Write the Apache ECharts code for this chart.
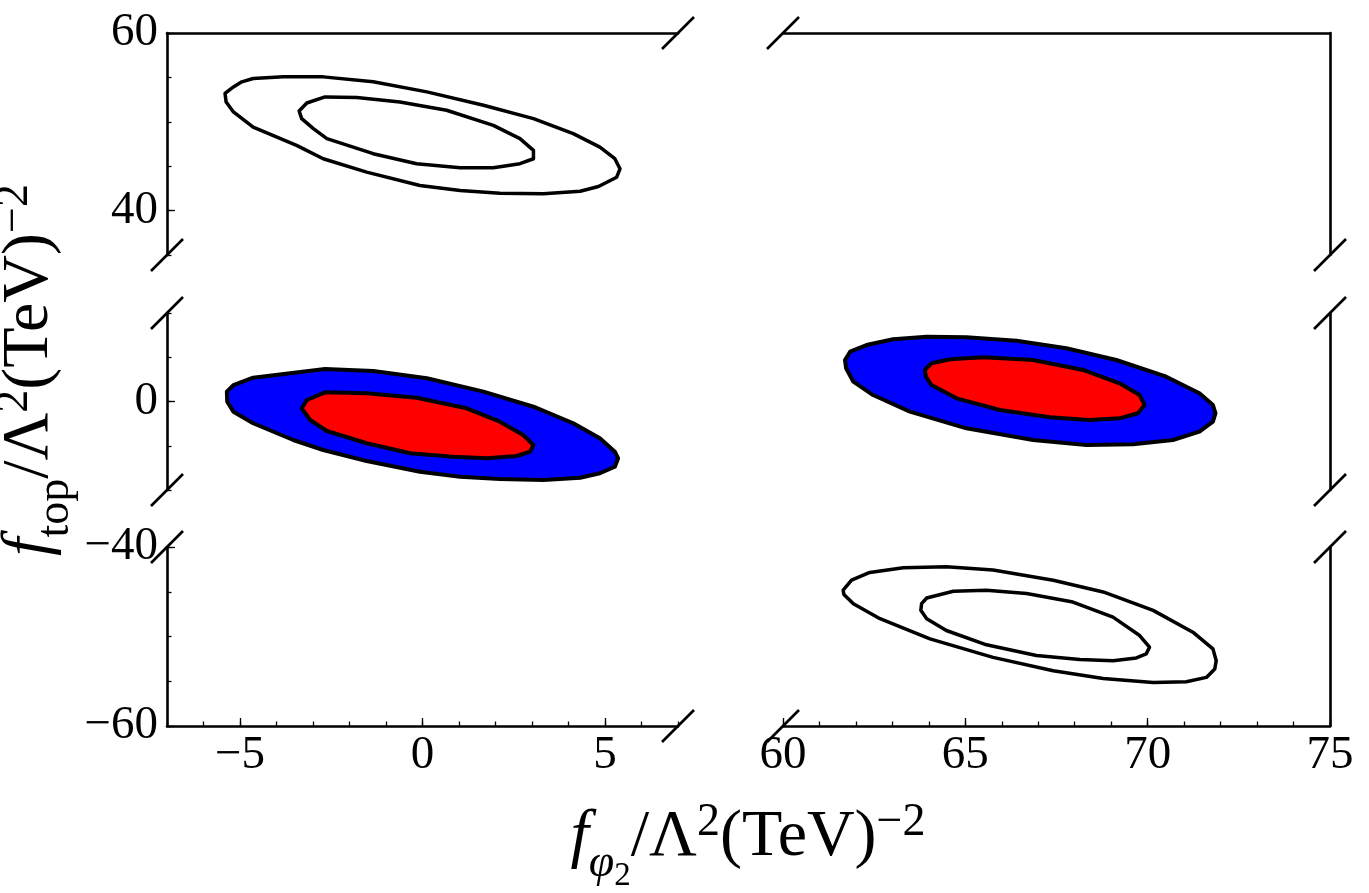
<!DOCTYPE html>
<html>
<head>
<meta charset="utf-8">
<script src="https://cdn.jsdelivr.net/npm/echarts@6/dist/echarts.min.js"></script>
<style>
html, body {margin: 0; padding: 0; background: #fff;}
#chart {width: 1369px; height: 893px;}
</style>
</head>
<body>
<div id="chart"></div>
<script>
// ranges of the broken axes
var xRangeLeft = [-7, 7];
var xRangeRight = [60, 75];
var yRangeTop = [35, 60];
var yRangeMid = [-10, 10];
var yRangeBot = [-60, -40];

// labelled (major) ticks
var xMajorLeft = [-5, 0, 5];
var xMajorRight = [60, 65, 70, 75];
var yMajor = [-60, -40, 0, 40, 60];

// contours, points are [f_phi2, f_top]
var topLeftOuter = [[-5.41,53.19],[-5.18,53.93],[-4.95,54.50],[-4.64,54.88],[-3.81,55.06],[-2.72,55.06],[-1.35,54.50],[0.12,53.37],[1.67,51.86],[3.04,50.36],[4.13,48.67],[4.86,47.15],[5.27,45.84],[5.41,44.71],[5.32,43.76],[4.82,42.71],[4.32,42.18],[3.31,41.89],[2.12,41.95],[1.03,42.26],[-0.07,42.82],[-1.53,44.33],[-2.72,45.84],[-3.45,47.34],[-4.64,49.41],[-5.18,51.11],[-5.38,52.24]];
var topLeftInner = [[-3.38,51.22],[-3.17,52.12],[-2.67,52.80],[-1.80,52.73],[-0.62,52.24],[0.66,51.30],[1.94,49.60],[2.67,48.10],[3.04,46.78],[3.04,45.84],[2.67,45.28],[1.94,44.82],[1.03,44.82],[-0.16,45.28],[-1.35,46.41],[-2.62,48.10],[-2.99,49.23],[-3.31,50.36]];
var midLeftOuter = [[-5.36,1.11],[-5.18,1.86],[-4.64,2.69],[-2.67,3.67],[-1.35,3.45],[0.12,2.62],[1.67,1.11],[3.04,-0.59],[4.13,-2.46],[4.86,-4.16],[5.27,-5.67],[5.36,-6.42],[5.27,-7.37],[4.86,-8.11],[4.32,-8.61],[3.31,-8.87],[2.12,-8.76],[1.03,-8.50],[-0.07,-7.93],[-1.53,-6.72],[-2.72,-5.48],[-3.54,-4.35],[-4.64,-2.46],[-5.18,-1.15],[-5.35,-0.02]];
var midLeftInner = [[-3.31,-0.77],[-3.17,0.17],[-2.67,1.04],[-1.53,0.93],[-0.16,0.43],[1.21,-0.77],[2.12,-2.28],[2.76,-3.79],[3.04,-4.92],[2.95,-5.67],[2.58,-6.16],[1.76,-6.42],[0.84,-6.24],[-0.34,-5.85],[-1.53,-4.72],[-2.62,-3.33],[-3.08,-2.09]];
var midRightOuter = [[61.70,4.69],[61.84,5.63],[62.29,6.38],[63.02,7.03],[63.94,7.32],[65.03,7.25],[66.40,6.87],[67.77,6.01],[69.14,4.69],[70.51,2.80],[71.42,0.93],[71.79,-0.40],[71.86,-1.33],[71.79,-2.28],[71.42,-3.41],[70.69,-4.35],[69.60,-4.84],[68.32,-4.92],[66.86,-4.35],[65.03,-3.03],[63.48,-1.15],[62.47,0.73],[61.93,2.24],[61.73,3.75]];
var midRightInner = [[63.89,3.56],[64.07,4.32],[64.58,4.77],[65.49,4.99],[66.86,4.69],[68.23,3.56],[69.23,2.06],[69.78,0.73],[69.92,-0.40],[69.73,-1.33],[69.23,-1.90],[68.41,-2.09],[67.32,-1.79],[65.95,-0.96],[64.76,0.36],[64.07,1.86],[63.92,2.80]];
var botRightOuter = [[61.65,-44.83],[61.88,-43.71],[62.38,-42.84],[63.30,-42.33],[64.48,-42.21],[65.76,-42.58],[67.41,-43.71],[68.78,-45.02],[70.15,-47.08],[71.24,-49.52],[71.79,-51.38],[71.88,-52.70],[71.84,-53.63],[71.61,-54.57],[71.06,-55.06],[70.15,-55.13],[68.78,-54.69],[67.41,-53.82],[65.76,-52.33],[64.03,-50.26],[62.66,-48.01],[61.93,-46.33],[61.67,-45.31]];
var botRightInner = [[63.80,-46.33],[63.94,-45.70],[64.67,-44.94],[65.58,-44.83],[66.68,-45.20],[67.95,-46.15],[69.05,-47.83],[69.78,-49.89],[70.05,-51.20],[69.96,-51.94],[69.69,-52.39],[69.05,-52.70],[68.14,-52.58],[66.95,-52.13],[65.58,-50.93],[64.48,-49.33],[63.94,-48.01],[63.78,-47.08]];

var FONT = 'Liberation Serif';
var cols = [{left: 167, width: 511, range: xRangeLeft, major: xMajorLeft},
            {left: 783, width: 547, range: xRangeRight, major: xMajorRight}];
var rows = [{top: 33, height: 222, range: yRangeTop},
            {top: 313, height: 177, range: yRangeMid},
            {top: 547, height: 179, range: yRangeBot}];

function fmt(v) {
    return v < 0 ? '\u2212' + Math.abs(v) : String(v);
}
function inRange(list, r) {
    return list.filter(function (v) { return v >= r[0] && v <= r[1]; });
}
var spine = {show: true, onZero: false, lineStyle: {color: '#000', width: 2.6}};
var tickLabel = {fontFamily: FONT, fontSize: 47, color: '#000'};

var grids = [], xAxes = [], yAxes = [];
rows.forEach(function (row, r) {
    cols.forEach(function (col, c) {
        var g = grids.length;
        grids.push({left: col.left, width: col.width, top: row.top, height: row.height});
        var x = {gridIndex: g, type: 'value', min: col.range[0], max: col.range[1],
                 interval: 1, splitLine: {show: false}};
        if (r === 0) {
            x.position = 'top';
            x.axisLine = spine; x.axisTick = {show: false}; x.axisLabel = {show: false};
        } else if (r === 1) {
            x.show = false;
        } else {
            x.position = 'bottom';
            x.axisLine = spine;
            x.axisTick = {inside: true, length: 4.5, lineStyle: {color: '#000', width: 1.3}};
            x.axisLabel = Object.assign({margin: 6, formatter: function (v) {
                return col.major.indexOf(v) >= 0 ? fmt(v) : '';
            }}, tickLabel);
        }
        xAxes.push(x);
        var y = {gridIndex: g, type: 'value', min: row.range[0], max: row.range[1],
                 interval: 5, splitLine: {show: false}, axisLine: spine};
        if (c === 0) {
            y.position = 'left';
            y.axisTick = {inside: true, length: 4.5, lineStyle: {color: '#000', width: 1.3}};
            y.axisLabel = Object.assign({margin: 9, formatter: function (v) {
                return yMajor.indexOf(v) >= 0 ? fmt(v) : '';
            }}, tickLabel);
        } else {
            y.position = 'right';
            y.axisTick = {show: false}; y.axisLabel = {show: false};
        }
        yAxes.push(y);
    });
});

// overlay grids carrying the longer major ticks
function majorAxis(g, range, values, pos) {
    if (!values) return {gridIndex: g, type: 'value', min: range[0], max: range[1], show: false};
    return {gridIndex: g, type: 'value', min: range[0], max: range[1], position: pos,
            axisLine: {show: false, onZero: false}, axisLabel: {show: false}, splitLine: {show: false},
            axisTick: {inside: true, length: 8, customValues: inRange(values, range),
                       lineStyle: {color: '#000', width: 1.3}}};
}
[[0, 0, false, true], [1, 0, false, true], [2, 0, true, true], [2, 1, true, false]].forEach(function (d) {
    var row = rows[d[0]], col = cols[d[1]], g = grids.length;
    grids.push({left: col.left, width: col.width, top: row.top, height: row.height});
    xAxes.push(majorAxis(g, col.range, d[2] ? col.major : null, 'bottom'));
    yAxes.push(majorAxis(g, row.range, d[3] ? yMajor : null, 'left'));
});

function contour(g, points, fill, lw) {
    return {
        type: 'custom', xAxisIndex: g, yAxisIndex: g, data: points, silent: true,
        renderItem: function (params, api) {
            if (params.dataIndex !== 0) return null;
            var pts = points.map(function (p) { return api.coord(p); });
            return {type: 'polygon', shape: {points: pts},
                    style: {fill: fill || 'none', stroke: '#000', lineWidth: lw, lineJoin: 'round'}};
        }
    };
}

var chart = echarts.init(document.getElementById('chart'));
chart.setOption({
    animation: false,
    backgroundColor: '#fff',
    grid: grids,
    xAxis: xAxes,
    yAxis: yAxes,
    series: [
        contour(0, topLeftOuter, null, 3.5),
        contour(0, topLeftInner, null, 3.5),
        contour(2, midLeftOuter, '#0000ff', 4),
        contour(2, midLeftInner, '#ff0000', 4),
        contour(3, midRightOuter, '#0000ff', 4),
        contour(3, midRightInner, '#ff0000', 4),
        contour(5, botRightOuter, null, 3.5),
        contour(5, botRightInner, null, 3.5)
    ]
});

// break marks at the ends of each cut spine
var cuts = [
    [0, xRangeLeft[1], yRangeTop[1]], [0, xRangeLeft[0], yRangeTop[0]],
    [1, xRangeRight[0], yRangeTop[1]], [1, xRangeRight[1], yRangeTop[0]],
    [2, xRangeLeft[0], yRangeMid[1]], [2, xRangeLeft[0], yRangeMid[0]],
    [3, xRangeRight[1], yRangeMid[1]], [3, xRangeRight[1], yRangeMid[0]],
    [4, xRangeLeft[0], yRangeBot[1]], [4, xRangeLeft[1], yRangeBot[0]],
    [5, xRangeRight[1], yRangeBot[1]], [5, xRangeRight[0], yRangeBot[0]]
];
var d = 16;
var elements = cuts.map(function (c) {
    var p = chart.convertToPixel({gridIndex: c[0]}, [c[1], c[2]]);
    return {type: 'line', shape: {x1: p[0] - d, y1: p[1] + d, x2: p[0] + d, y2: p[1] - d},
            style: {stroke: '#000', lineWidth: 2.6}, silent: true};
});

// axis titles: sup/sub shifted with padding inside a fixed line box
var rich = {
    i: {fontFamily: FONT, fontStyle: 'italic', fontSize: 66, lineHeight: 110, verticalAlign: 'middle'},
    r: {fontFamily: FONT, fontSize: 66, lineHeight: 110, verticalAlign: 'middle'},
    sup: {fontFamily: FONT, fontSize: 46, lineHeight: 110, verticalAlign: 'middle', padding: [0, 0, 30, 0]},
    sub: {fontFamily: FONT, fontSize: 46, lineHeight: 110, verticalAlign: 'middle', padding: [52, 0, 0, 0]},
    subi: {fontFamily: FONT, fontStyle: 'italic', fontSize: 46, lineHeight: 110, verticalAlign: 'middle', padding: [52, 0, 0, 0]},
    subsub: {fontFamily: FONT, fontSize: 33, lineHeight: 110, verticalAlign: 'middle', padding: [76, 0, 0, 0]}
};
elements.push({
    type: 'text', x: 748, y: 838, silent: true,
    style: {text: '{i|f}{subi|\u03c6}{subsub|2}{r|/\u039b}{sup|2}{r|(TeV)}{sup|\u22122}',
            rich: rich, fill: '#000', align: 'center', verticalAlign: 'middle',
            textAlign: 'center', textVerticalAlign: 'middle'}
});
elements.push({
    type: 'text', x: 30, y: 370, rotation: Math.PI / 2, silent: true,
    style: {text: '{i|f}{sub|top}{r|/\u039b}{sup|2}{r|(TeV)}{sup|\u22122}',
            rich: rich, fill: '#000', align: 'center', verticalAlign: 'middle',
            textAlign: 'center', textVerticalAlign: 'middle'}
});
chart.setOption({graphic: {elements: elements}});
</script>
</body>
</html>
